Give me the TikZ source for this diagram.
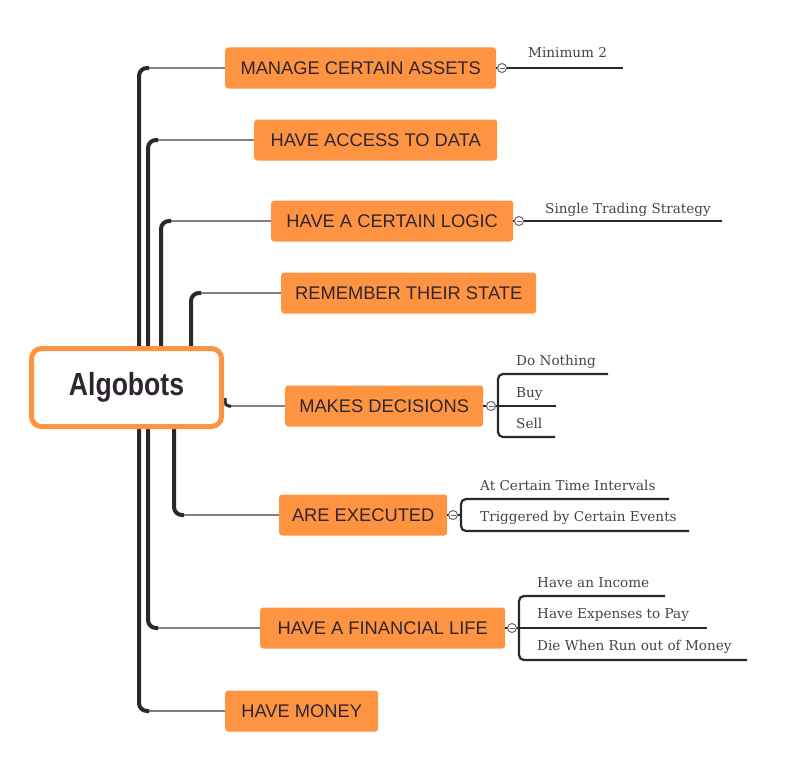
\documentclass[tikz,border=0pt]{standalone}
\usepackage{fontspec}
\usepackage{graphicx}
\setmainfont{Liberation Sans}
\newfontfamily\subfont{DejaVu Serif}
\usetikzlibrary{calc}
\definecolor{orng}{HTML}{FE9441}
\definecolor{ink}{HTML}{2E2530}
\definecolor{gline}{HTML}{857D87}
\definecolor{subtxt}{HTML}{4A3F4A}
\definecolor{tog}{HTML}{6B6570}
\begin{document}
\begin{tikzpicture}[x=1pt,y=-1pt,
  topic/.style={fill=orng, rounded corners=3pt, minimum height=41pt, inner xsep=0pt, anchor=west, font=\fontsize{18.3}{20}\selectfont, text=ink},
  rootbox/.style={draw=orng, line width=5pt, fill=white, rounded corners=10pt, minimum width=190pt, minimum height=78pt, text=ink},
  trunk/.style={draw=ink, line width=4pt, rounded corners=8pt},
  branch/.style={draw=gline, line width=1.8pt},
  subline/.style={draw=ink, line width=2.2pt, rounded corners=5pt},
  subtext/.style={anchor=base west, inner sep=0pt, font=\subfont\fontsize{13.6}{15}\selectfont, text=subtxt},
  toggle/.style={circle, draw=tog, fill=white, line width=1pt, minimum size=9pt, inner sep=0pt,
    path picture={\draw[tog, line width=0.8pt] ([xshift=2pt]path picture bounding box.west) -- ([xshift=-2pt]path picture bounding box.east);}}
]
\useasboundingbox (0,0) rectangle (802,776);

% topics
\node[topic, minimum width=271pt] (M) at (225,68) {MANAGE CERTAIN ASSETS};
\node[topic, minimum width=243pt] (A) at (254,140) {HAVE ACCESS TO DATA};
\node[topic, minimum width=242pt] (L) at (271,221) {HAVE A CERTAIN LOGIC};
\node[topic, minimum width=255pt] (R) at (281,293) {REMEMBER THEIR STATE};
\node[topic, minimum width=198pt] (D) at (285,406) {MAKES DECISIONS};
\node[topic, minimum width=168pt] (E) at (279,515) {ARE EXECUTED};
\node[topic, minimum width=245pt] (F) at (260,628) {HAVE A FINANCIAL LIFE};
\node[topic, minimum width=153pt] (H) at (225,711) {HAVE MONEY};

% trunk bases
\coordinate (tM) at (139,387);
\coordinate (tA) at (148,387);
\coordinate (tL) at (161,387);
\coordinate (tR) at (191,387);
\coordinate (tE) at (174,387);
\coordinate (tF) at (148,387);
\coordinate (tH) at (139,387);

\foreach \n in {M,A,L,R,E,F,H}{
  \draw[branch] (\n.west) -- ($(t\n |- \n.west)+(6,0)$);
  \draw[trunk] (t\n) |- ($(t\n |- \n.west)+(10,0)$);
}

% decisions branch (short hook at the root's edge)
\coordinate (tD) at (225,398);
\draw[branch] (D.west) -- ($(tD |- D.west)+(4,0)$);
\draw[trunk, line width=3pt, rounded corners=4pt] (tD) |- ($(tD |- D.west)+(6,0)$);

% root
\node[rootbox] (root) at (126.5,387.5) {\fontsize{32}{34}\selectfont\bfseries\scalebox{0.83}[1]{Algobots}};

% Minimum 2
\coordinate (m1) at (623,68);
\draw[subline] (M.east) -- (m1);
\node[toggle] (gM) at (502,68) {};
\node[subtext] (sM) at (528,58) {Minimum 2};

% Logic
\coordinate (l1) at (722,221);
\draw[subline] (L.east) -- (l1);
\node[toggle] (gL) at (519,221) {};
\node[subtext] (sL) at (545,213) {Single Trading Strategy};

% Decisions
\coordinate (d1) at (608,374);
\coordinate (d2) at (556,406);
\coordinate (d3) at (555,437);
\coordinate (dx) at (498,406);
\draw[subline] (D.east) -- (d2);
\draw[subline] (d1) -| (dx) |- (d3);
\node[toggle] (gD) at (491,406) {};
\node[subtext] (sD1) at (516,365) {Do Nothing};
\node[subtext] (sD2) at (516,397) {Buy};
\node[subtext] (sD3) at (516,428) {Sell};

% Executed
\coordinate (e1) at (669,499);
\coordinate (e2) at (689,531);
\coordinate (ex) at (461,515);
\draw[subline] (E.east) -- (ex);
\draw[subline] (e1) -| (ex) |- (e2);
\node[toggle] (gE) at (453,515) {};
\node[subtext] (sE1) at (480,490) {At Certain Time Intervals};
\node[subtext] (sE2) at (480,521) {Triggered by Certain Events};

% Financial
\coordinate (f1) at (665,596);
\coordinate (f2) at (707,628);
\coordinate (f3) at (747,660);
\coordinate (fx) at (519,628);
\draw[subline] (F.east) -- (f2);
\draw[subline] (f1) -| (fx) |- (f3);
\node[toggle] (gF) at (512,628) {};
\node[subtext] (sF1) at (537,587) {Have an Income};
\node[subtext] (sF2) at (537,618) {Have Expenses to Pay};
\node[subtext] (sF3) at (537,650) {Die When Run out of Money};
\end{tikzpicture}
\end{document}
